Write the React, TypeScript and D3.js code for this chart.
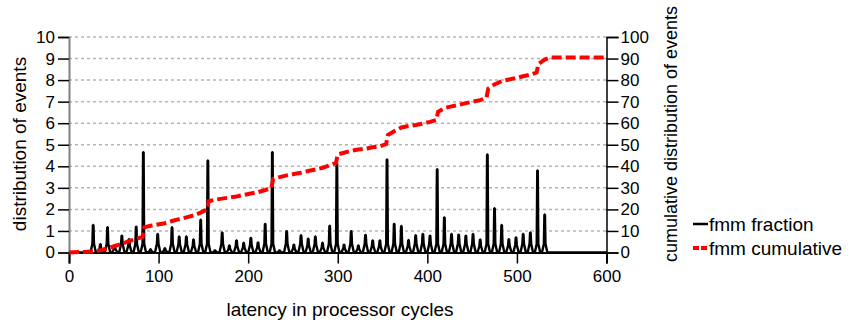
import { useEffect, useRef } from 'react';
import * as d3 from 'd3';

// fraction spikes (latency in cycles -> % of events)
const spikeCycles = [
  27, 35, 43, 51, 59, 67, 75, 83, 91, 99, 107, 115, 123, 131, 139, 147, 155, 163, 171, 179,
  187, 195, 203, 211, 219, 227, 235, 243, 251, 259, 267, 275, 283, 291, 299, 307, 315, 323, 331, 339,
  347, 355, 363, 371, 379, 387, 395, 403, 411, 419, 427, 435, 443, 451, 459, 467, 475, 483, 491, 499,
  507, 515, 523, 531,
];
const spikeFraction = [
  1.28, 0.39, 1.17, 0.32, 0.78, 0.62, 1.2, 4.66, 0.15, 0.86, 0.2, 1.17, 0.74, 0.74, 0.6, 1.52, 4.27, 0.1, 0.93, 0.33,
  0.56, 0.45, 0.68, 0.47, 1.33, 4.66, 0.1, 0.99, 0.36, 0.8, 0.64, 0.74, 0.45, 1.24, 4.12, 0.36, 0.99, 0.33, 0.82, 0.56,
  0.56, 4.32, 1.33, 1.23, 0.58, 0.8, 0.86, 0.78, 3.86, 1.63, 0.86, 0.83, 0.78, 0.86, 0.6, 4.55, 2.05, 1.28, 0.62, 0.7,
  0.86, 0.93, 3.81, 1.76,
];

// cumulative distribution (%)
const cumCycles = [
  0, 27, 35, 43, 51, 59, 67, 75, 82, 84, 91, 99, 107, 115, 123, 131, 139, 147, 154, 156,
  163, 171, 179, 187, 195, 203, 211, 219, 226, 228, 235, 243, 251, 259, 267, 275, 283, 291, 298, 300,
  307, 315, 323, 331, 339, 347, 354, 356, 363, 371, 379, 387, 395, 403, 410, 412, 419, 427, 435, 443,
  451, 459, 466, 468, 475, 483, 491, 499, 507, 515, 522, 524, 531, 537, 600,
];
const cumValues = [
  0, 0.5, 1, 2, 3, 4, 5.3, 6.3, 7.2, 11.7, 12.4, 13, 13.6, 14.6, 15.5, 16.3, 17.2, 18.5, 20, 23.8,
  24.5, 25, 25.5, 26, 26.7, 27.4, 28, 29, 30, 34.2, 35, 35.8, 36.4, 37, 37.8, 38.5, 39.3, 40.5, 41.5, 45.5,
  46.3, 47.2, 47.8, 48.2, 48.8, 49.3, 50.3, 54.5, 56.3, 58, 58.7, 59.2, 59.8, 60.6, 61.5, 65.3, 67, 67.8, 68.5, 69.3,
  70, 70.7, 71.8, 76, 78, 79.5, 80.3, 81, 81.8, 82.5, 83.5, 87.5, 89.5, 90.5, 90.5,
];

const xTicks = [0, 100, 200, 300, 400, 500, 600];
const leftTicks = [0, 1, 2, 3, 4, 5, 6, 7, 8, 9, 10];
const rightTicks = [0, 10, 20, 30, 40, 50, 60, 70, 80, 90, 100];
const legendItems = ['fmm fraction', 'fmm cumulative'];

const FONT = '"Liberation Sans", Arial, Helvetica, sans-serif';

export default function App() {
  const svgRef = useRef<SVGSVGElement>(null);

  useEffect(() => {
    if (!svgRef.current) return;
    const svg = d3.select(svgRef.current);
    svg.selectAll('*').remove();

    const x = d3.scaleLinear().domain([0, 600]).range([69, 606.5]);
    const yL = d3.scaleLinear().domain([0, 10]).range([252.5, 37]);
    const yR = d3.scaleLinear().domain([0, 100]).range([252.5, 37]);

    // grid lines
    svg.append('g')
      .selectAll('line')
      .data(leftTicks.slice(1))
      .enter().append('line')
      .attr('x1', x(0)).attr('x2', x(600))
      .attr('y1', d => yL(d)).attr('y2', d => yL(d))
      .attr('stroke', '#b4b4b4')
      .attr('stroke-width', 1.5)
      .attr('stroke-dasharray', '3,3');

    // left axis
    const left = svg.append('g')
      .attr('transform', `translate(${x(0)},0)`)
      .call(d3.axisLeft(yL).tickValues(leftTicks).tickSize(11).tickPadding(3).tickFormat(d3.format('d')));
    left.select('.domain').attr('stroke', '#808080').attr('stroke-width', 2);
    left.selectAll('.tick line').attr('stroke', '#000').attr('stroke-width', 1.5);
    left.selectAll('text').attr('fill', '#000').style('font-family', FONT).style('font-size', '17px');

    // right axis
    const right = svg.append('g')
      .attr('transform', `translate(${x(600)},0)`)
      .call(d3.axisRight(yR).tickValues(rightTicks).tickSize(12).tickPadding(2).tickFormat(d3.format('d')));
    right.select('.domain').attr('stroke', '#000').attr('stroke-width', 1.5);
    right.selectAll('.tick line').attr('stroke', '#000').attr('stroke-width', 1.5);
    right.selectAll('text').attr('fill', '#000').style('font-family', FONT).style('font-size', '17px');

    // bottom axis
    const bottom = svg.append('g')
      .attr('transform', `translate(0,${yL(0)})`)
      .call(d3.axisBottom(x).tickValues(xTicks).tickSize(11).tickPadding(6).tickFormat(d3.format('d')));
    bottom.select('.domain').attr('stroke', '#000').attr('stroke-width', 2);
    bottom.selectAll('.tick line').attr('stroke', '#000').attr('stroke-width', 1.5);
    bottom.selectAll('text').attr('fill', '#000').style('font-family', FONT).style('font-size', '17px');

    // fraction series: each spike drawn as a narrow peak on the zero line
    const pts: [number, number][] = [[0, 0]];
    spikeCycles.forEach((c, i) => {
      const v = spikeFraction[i];
      const foot = Math.min(0.4, v * 0.5);
      pts.push([c - 3, 0], [c - 0.9, foot], [c - 0.3, v], [c + 0.3, v], [c + 0.9, foot], [c + 3, 0]);
    });
    pts.push([600, 0]);
    const line = d3.line<[number, number]>().x(d => x(d[0])).y(d => yL(d[1]));
    svg.append('path')
      .attr('d', line(pts) || '')
      .attr('fill', 'none')
      .attr('stroke', '#000')
      .attr('stroke-width', 2.4)
      .attr('stroke-linejoin', 'bevel');

    // cumulative series
    const cumPts = cumCycles.map((c, i) => [c, cumValues[i]] as [number, number]);
    const cumLine = d3.line<[number, number]>().x(d => x(d[0])).y(d => yR(d[1]));
    svg.append('path')
      .attr('d', cumLine(cumPts) || '')
      .attr('fill', 'none')
      .attr('stroke', '#ff0000')
      .attr('stroke-width', 4)
      .attr('stroke-dasharray', '10,4');

    // axis titles
    svg.append('text')
      .attr('x', 340).attr('y', 316)
      .attr('text-anchor', 'middle')
      .style('font-family', FONT).style('font-size', '19px')
      .text('latency in processor cycles');

    svg.append('text')
      .attr('transform', 'translate(26,144) rotate(-90)')
      .attr('text-anchor', 'middle')
      .style('font-family', FONT).style('font-size', '19px')
      .text('distribution of events');

    svg.append('text')
      .attr('transform', 'translate(677,134) rotate(-90)')
      .attr('text-anchor', 'middle')
      .style('font-family', FONT).style('font-size', '18px')
      .text('cumulative distribution of events');

    // legend
    const legend = svg.append('g').attr('transform', 'translate(693,0)');
    legendItems.forEach((label, i) => {
      const cy = 224 + i * 24;
      legend.append('line')
        .attr('x1', 0).attr('x2', 15).attr('y1', cy).attr('y2', cy)
        .attr('stroke', i === 0 ? '#000' : '#ff0000')
        .attr('stroke-width', i === 0 ? 2.5 : 4)
        .attr('stroke-dasharray', i === 0 ? null : '6,2');
      legend.append('text')
        .attr('x', 16).attr('y', cy + 7)
        .style('font-family', FONT).style('font-size', '19px')
        .text(label);
    });
  }, []);

  return (
    <svg
      ref={svgRef}
      width={850}
      height={320}
      style={{ position: 'absolute', left: 0, top: 0, background: '#fff' }}
    />
  );
}
